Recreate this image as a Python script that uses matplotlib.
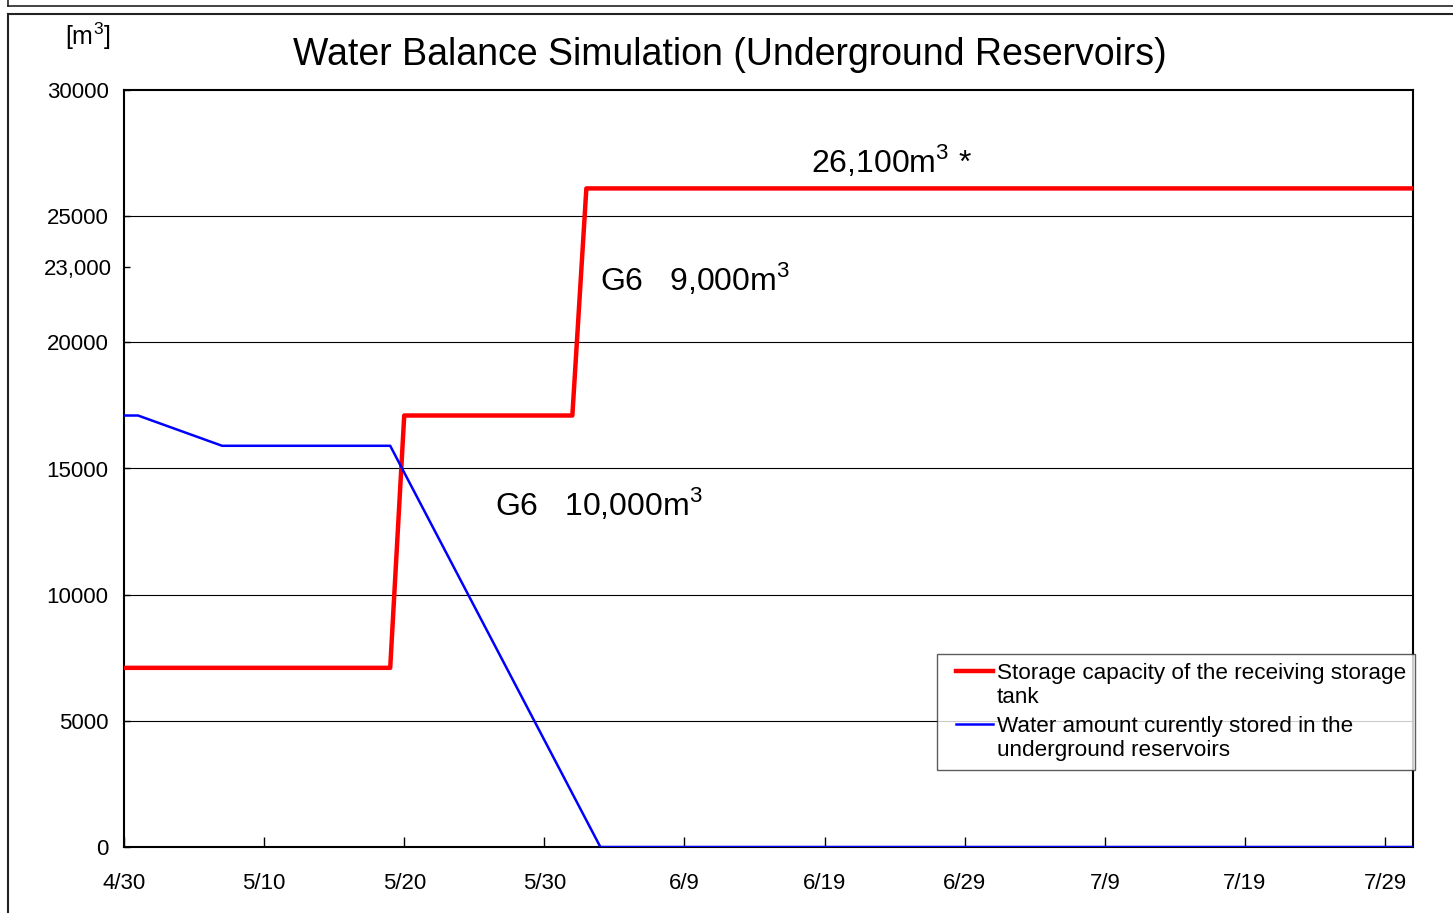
import numpy as np
import matplotlib
matplotlib.use("Agg")
import matplotlib.pyplot as plt
from matplotlib.lines import Line2D
from matplotlib.legend_handler import HandlerLine2D

plt.rcParams["font.family"] = ["Liberation Sans", "DejaVu Sans"]
plt.rcParams["mathtext.fontset"] = "custom"
plt.rcParams["mathtext.rm"] = "Liberation Sans"

# storage capacity of the receiving tank
cap_dates = np.array(["2011-04-30", "2011-05-19", "2011-05-20", "2011-06-01",
                      "2011-06-02", "2011-07-31"], dtype="datetime64[D]")
cap_vals = [7100, 7100, 17100, 17100, 26100, 26100]

# water stored in the underground reservoirs
res_dates = np.array(["2011-04-30", "2011-05-01", "2011-05-07", "2011-05-19",
                      "2011-06-03", "2011-07-31"], dtype="datetime64[D]")
res_vals = [17100, 17100, 15900, 15900, 0, 0]

x_ticks = np.array(["2011-04-30", "2011-05-10", "2011-05-20", "2011-05-30",
                    "2011-06-09", "2011-06-19", "2011-06-29", "2011-07-09",
                    "2011-07-19", "2011-07-29"], dtype="datetime64[D]")
x_labels = ["4/30", "5/10", "5/20", "5/30", "6/9", "6/19", "6/29", "7/9", "7/19", "7/29"]
y_ticks = [0, 5000, 10000, 15000, 20000, 25000, 30000]


class LeftPadLine(HandlerLine2D):
    # legend line with some room on its left, none on its right
    def get_xdata(self, legend, xdescent, ydescent, width, height, fontsize):
        x = np.array([-xdescent + 0.45 * fontsize, -xdescent + width])
        return x, x


fig = plt.figure(figsize=(14.53, 9.13), dpi=100)
ax = fig.add_axes([124 / 1453, 1 - 847 / 913, (1413 - 124) / 1453, (847 - 90) / 913])

# outer frames
fig.add_artist(Line2D([8 / 1453, 1.0], [1 - 6 / 913] * 2, color="#222222", lw=1.2,
                      transform=fig.transFigure))
fig.add_artist(Line2D([8 / 1453, 8 / 1453], [1.0, 1 - 6 / 913], color="#222222", lw=1.2,
                      transform=fig.transFigure))
fig.add_artist(Line2D([8 / 1453, 1.0], [1 - 14 / 913] * 2, color="#222222", lw=1.5,
                      transform=fig.transFigure))
fig.add_artist(Line2D([8 / 1453, 8 / 1453], [0.0, 1 - 14 / 913], color="#222222", lw=1.5,
                      transform=fig.transFigure))

for y in y_ticks[1:-1]:
    ax.axhline(y, color="black", lw=0.8, zorder=1)

ax.plot(cap_dates, cap_vals, color="#ff0000", lw=3.2, zorder=3,
        label="Storage capacity of the receiving storage\ntank")
ax.plot(res_dates, res_vals, color="#0000ff", lw=1.8, zorder=4,
        label="Water amount curently stored in the\nunderground reservoirs")

ax.set_xlim(np.datetime64("2011-04-30"), np.datetime64("2011-07-31"))
ax.set_ylim(0, 30000)
ax.set_xticks(x_ticks)
ax.set_xticklabels(x_labels, fontsize=16)
ax.set_yticks(y_ticks)
ax.set_yticklabels([str(v) for v in y_ticks], fontsize=16)
ax.set_yticks([23000], minor=True)
ax.set_yticklabels(["23,000"], minor=True, fontsize=16)
ax.tick_params(axis="x", which="major", direction="in", length=7, width=1, pad=19)
ax.tick_params(axis="y", which="major", direction="in", length=4, width=1, pad=11)
ax.tick_params(axis="y", which="minor", direction="in", length=4, width=1, pad=9)
for s in ax.spines.values():
    s.set_linewidth(1.5)

fig.text(88 / 1453, 1 - 36 / 913, "[m$^3$]", fontsize=18, ha="center", va="center")
fig.text(730 / 1453, 1 - 55 / 913, "Water Balance Simulation (Underground Reservoirs)",
         fontsize=27, ha="center", va="center")

ax.text(np.datetime64("2011-06-18"), 27200, "26,100m$^3$ *", fontsize=23, ha="left", va="center")
ax.text(np.datetime64("2011-06-03"), 22500, "G6   9,000m$^3$", fontsize=23, ha="left", va="center")
ax.text(np.datetime64("2011-05-26T12"), 13600, "G6   10,000m$^3$", fontsize=23,
        ha="left", va="center")

leg = ax.legend(loc="upper left", bbox_to_anchor=((937 - 124) / 1289, (847 - 654) / 757),
                fontsize=16.2, frameon=True, fancybox=False, handlelength=2.1,
                handletextpad=0.15, borderpad=0.4, labelspacing=0.35, borderaxespad=0,
                handler_map={Line2D: LeftPadLine()})
leg.get_frame().set_edgecolor("#333333")
leg.get_frame().set_linewidth(1)
leg.set_zorder(10)
# put each handle next to the first line of its label
for col in leg._legend_handle_box.get_children():
    for entry in col.get_children():
        entry.align = "top"

fig.savefig("out.png", dpi=100)
